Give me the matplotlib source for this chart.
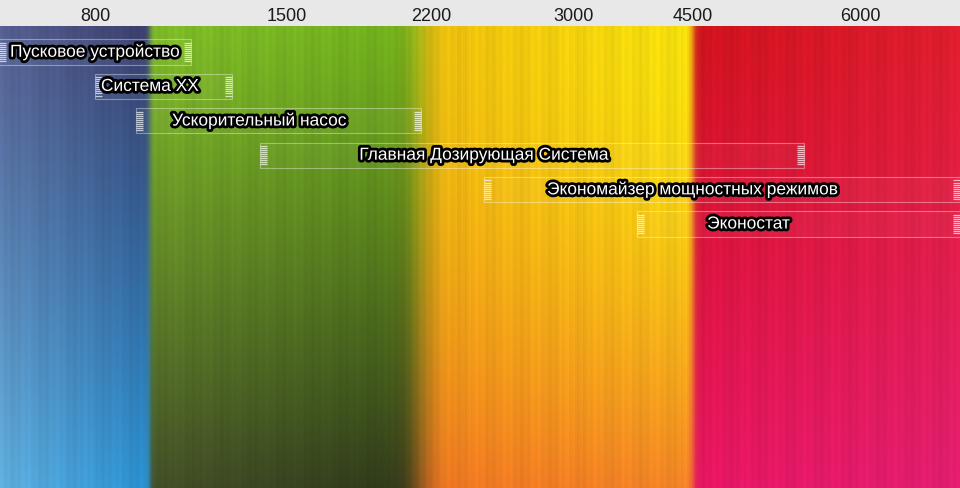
import numpy as np
import matplotlib
matplotlib.use("Agg")
import matplotlib.pyplot as plt
import matplotlib.patheffects as pe
from matplotlib.patches import Rectangle

plt.rcParams['font.family'] = ['Liberation Sans', 'DejaVu Sans']

# ---- data ----
tick_rpm = [800, 1500, 2200, 3000, 4500, 6000]
systems = ["Пусковое устройство", "Система ХХ", "Ускорительный насос",
           "Главная Дозирующая Система", "Экономайзер мощностных режимов", "Эконостат"]
start_rpm = [450, 800, 950, 1400, 2500, 3800]
end_rpm = [1150, 1300, 2150, 5500, 6900, 6900]
label_rpm = [800, 1000, 1400, 2500, 4500, 5000]
zone_edges = [1000, 2150, 4500]

# ---- non-linear rpm axis (piecewise linear through tick positions) ----
anchor_rpm = np.array([0, 800, 1500, 2200, 3000, 4500, 6000, 10000], float)
anchor_pos = np.array([-124.4, 95, 287, 431, 573, 693, 860, 1305.4], float)

def fwd(x):
    return np.interp(np.asarray(x, float), anchor_rpm, anchor_pos)

def inv(p):
    return np.interp(np.asarray(p, float), anchor_pos, anchor_rpm)

W, H = 960, 489
fig = plt.figure(figsize=(W / 100, H / 100), dpi=100, facecolor='#e8e8e8')
top_px = 27
ax = fig.add_axes([0, 0, 1, (H - top_px) / H])
ax.set_xscale('function', functions=(fwd, inv))
x0, x1 = 453, 6898
ax.set_xlim(x0, x1)
row_h = 34.4
n_rows_axis = (H - top_px) / row_h
ax.set_ylim(n_rows_axis - 0.756, -0.756)

# ---- background gradient ----
ih = H - top_px
cols = np.arange(W) + 0.5
p = cols * (fwd(x1) - fwd(x0)) / W + fwd(x0)
yy = np.linspace(0, 1, ih)[:, None, None]

zone_cols = [
    # TL, TR, BL, BR, vertical exponent
    (np.array([86, 96, 145]), np.array([58, 62, 108]), np.array([95, 175, 222]), np.array([40, 145, 210]), 1.1),
    (np.array([128, 188, 40]), np.array([112, 176, 28]), np.array([68, 80, 40]), np.array([45, 55, 25]), 1.1),
    (np.array([238, 188, 14]), np.array([246, 226, 12]), np.array([240, 118, 34]), np.array([242, 132, 38]), 1.7),
    (np.array([208, 18, 30]), np.array([222, 30, 45]), np.array([232, 22, 100]), np.array([225, 30, 112]), 1.1),
]
bounds = [x0] + zone_edges + [x1]
pos_bounds = fwd(bounds)
img = np.zeros((ih, W, 3))
weights = []
blur = [1.5, 8.0, 2.0]
for z in range(4):
    wl = np.ones(W) if z == 0 else 1 / (1 + np.exp(-(p - pos_bounds[z]) / blur[z - 1]))
    wr = np.ones(W) if z == 3 else 1 / (1 + np.exp((p - pos_bounds[z + 1]) / blur[z]))
    weights.append(wl * wr)
weights = np.array(weights)
weights /= weights.sum(axis=0, keepdims=True)
for z in range(4):
    TL, TR, BL, BR, ex = zone_cols[z]
    a, b = pos_bounds[z], pos_bounds[z + 1]
    fx = np.clip((p - a) / (b - a), 0, 1)[None, :, None]
    top = TL * (1 - fx) + TR * fx
    bot = BL * (1 - fx) + BR * fx
    fy = yy ** ex
    zc = top * (1 - fy) + bot * fy
    img += zc * weights[z][None, :, None]
# subtle vertical streaks
streak = (np.sin(cols * 0.9) * 0.5 + np.sin(cols * 2.3 + 1.0) * 0.3 + np.sin(cols * 0.21 + 2) * 0.6)
img = img * (1 + 0.035 * streak[None, :, None])
img = np.clip(img / 255, 0, 1)
ax.imshow(img, transform=ax.transAxes, extent=(0, 1, 0, 1), aspect='auto', zorder=0,
          interpolation='bilinear')

# ---- bars ----
bar_h = 0.73
cap_px = 7
for i, (name, s, e, lx) in enumerate(zip(systems, start_rpm, end_rpm, label_rpm)):
    ax.add_patch(Rectangle((s, i - bar_h / 2), e - s, bar_h, facecolor=(1, 1, 1, 0.03),
                           edgecolor=(1, 1, 1, 0.38), linewidth=0.8, zorder=2))
    for edge, direction in ((s, 1), (e, -1)):
        ce = inv(fwd(edge) + direction * cap_px)
        ys = np.linspace(i - bar_h / 2 + 0.1, i + bar_h / 2 - 0.1, 10)
        ax.hlines(ys, min(edge, ce), max(edge, ce), colors=(1, 1, 1, 0.7), linewidth=0.9, zorder=3)
    ax.text(lx, i, name, ha='center', va='center', color='white', fontsize=12.5, zorder=5,
            path_effects=[pe.Stroke(linewidth=4, foreground='black'), pe.Normal()])

# ---- axis ----
ax.set_xticks(tick_rpm)
ax.set_xticklabels([str(t) for t in tick_rpm])
ax.xaxis.set_minor_locator(matplotlib.ticker.NullLocator())
ax.xaxis.tick_top()
ax.tick_params(axis='x', length=0, pad=1.5, labelsize=13, labelcolor='#1a1a1a')
ax.set_yticks([])
for sp in ax.spines.values():
    sp.set_visible(False)

fig.savefig('out.png', dpi=100, facecolor=fig.get_facecolor())
